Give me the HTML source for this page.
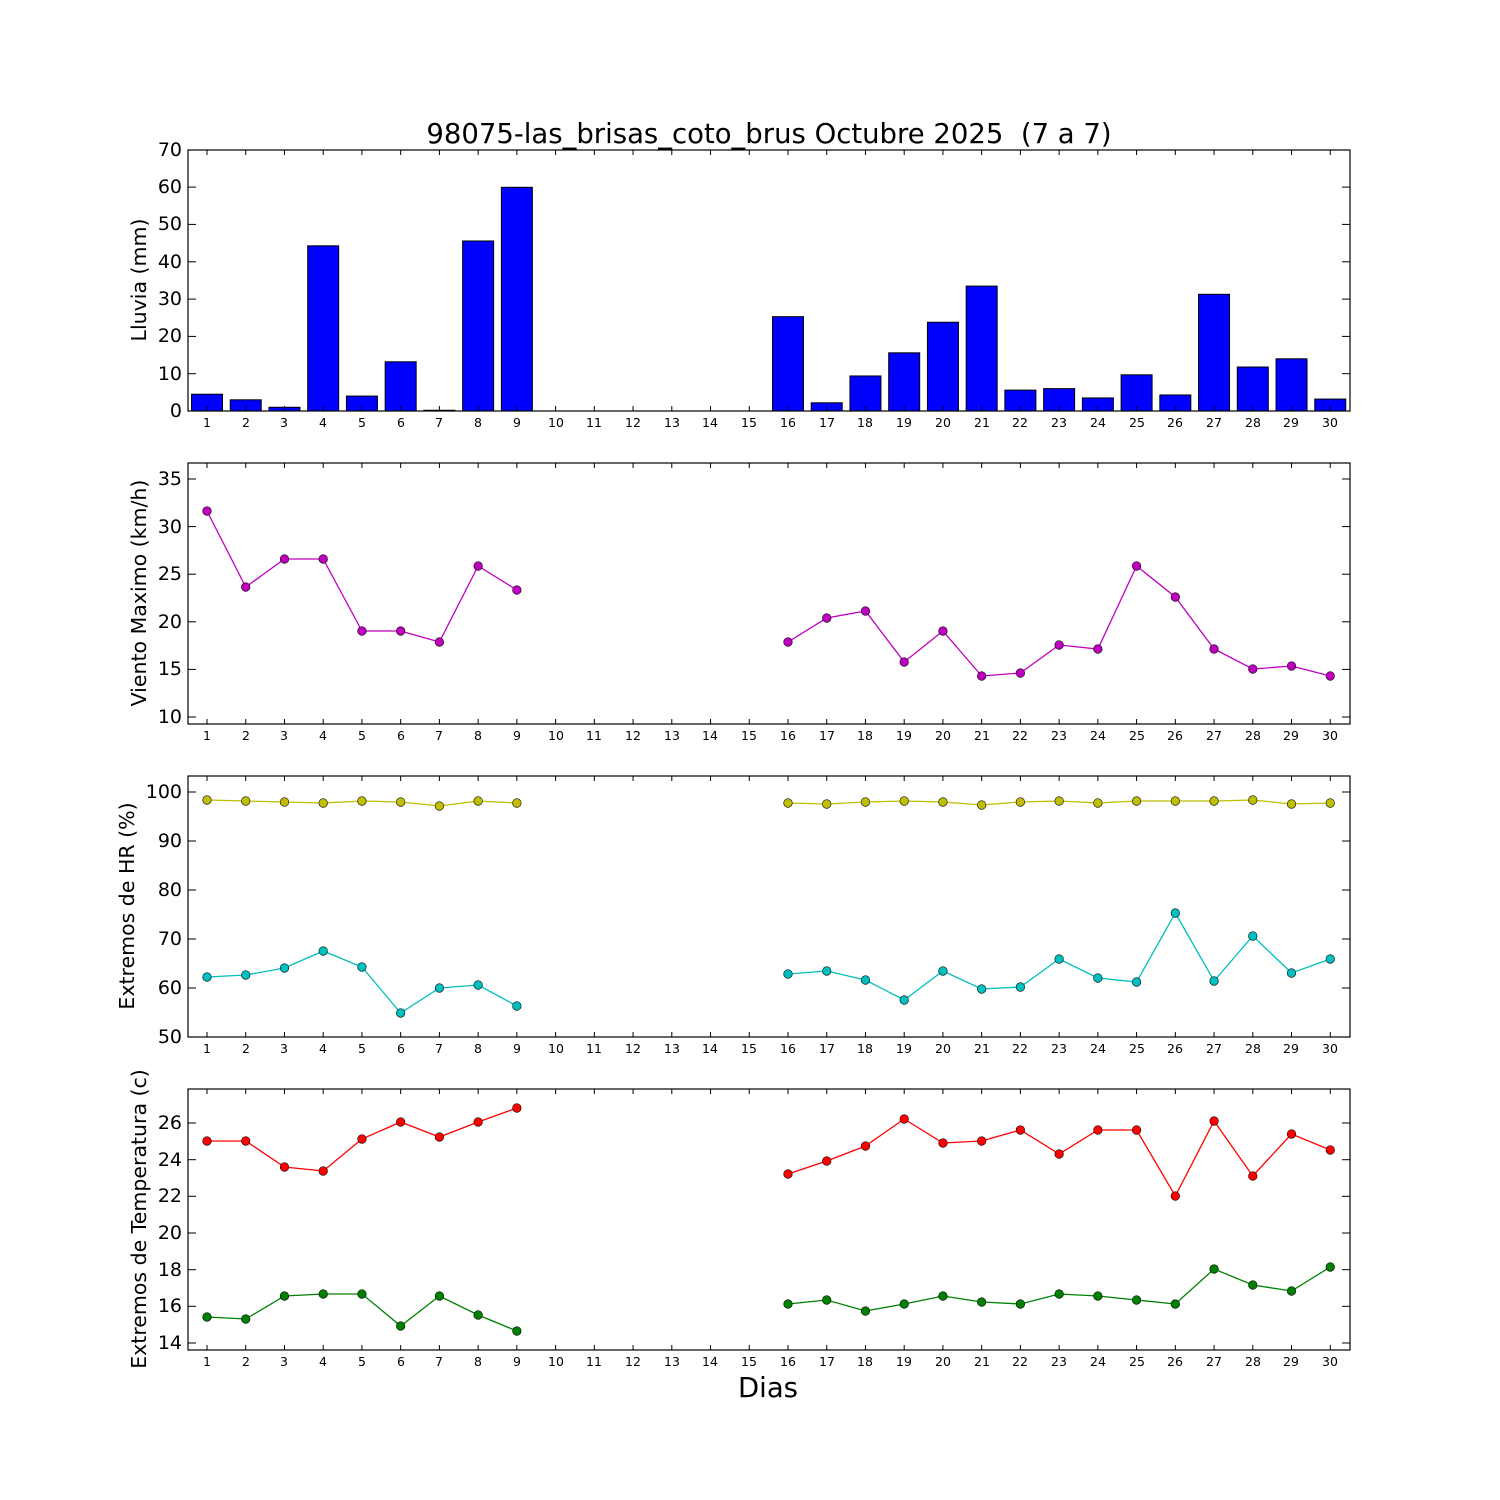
<!DOCTYPE html>
<html><head><meta charset="utf-8"><style>
html,body{margin:0;padding:0;background:#fff;}
svg{display:block;font-family:"DejaVu Sans","Liberation Sans",sans-serif;}
.xt{font-size:12.5px;text-anchor:middle;}
.yt{font-size:19px;text-anchor:end;}
.yl{font-size:20.5px;text-anchor:middle;}
</style></head><body>
<svg id="s" width="1500" height="1500" viewBox="0 0 1500 1500" xmlns="http://www.w3.org/2000/svg">
<rect width="1500" height="1500" fill="#fff"/>
<g id="shapes"></g>
<text x="769" y="143" font-size="27.5" text-anchor="middle" style="white-space:pre">98075-las_brisas_coto_brus Octubre 2025  (7 a 7)</text>
<text x="768" y="1397" font-size="27.5" text-anchor="middle">Dias</text>
<text class="yl" transform="translate(146,280) rotate(-90)">Lluvia (mm)</text>
<text class="yl" transform="translate(146,593) rotate(-90)">Viento Maximo (km/h)</text>
<text class="yl" transform="translate(134,906) rotate(-90)">Extremos de HR (%)</text>
<text class="yl" transform="translate(146,1219) rotate(-90)">Extremos de Temperatura (c)</text>
<g class="yt">
<text x="182" y="417">0</text><text x="182" y="380">10</text><text x="182" y="342">20</text><text x="182" y="305">30</text><text x="182" y="268">40</text><text x="182" y="230">50</text><text x="182" y="193">60</text><text x="182" y="156">70</text>
<text x="182" y="723">10</text><text x="182" y="675">15</text><text x="182" y="628">20</text><text x="182" y="580">25</text><text x="182" y="533">30</text><text x="182" y="485">35</text>
<text x="182" y="1043">50</text><text x="182" y="994">60</text><text x="182" y="945">70</text><text x="182" y="896">80</text><text x="182" y="847">90</text><text x="182" y="798">100</text>
<text x="182" y="1349">14</text><text x="182" y="1312">16</text><text x="182" y="1276">18</text><text x="182" y="1239">20</text><text x="182" y="1202">22</text><text x="182" y="1166">24</text><text x="182" y="1129">26</text>
</g>
<g class="xt" id="xl0">
<text x="207" y="427">1</text><text x="246" y="427">2</text><text x="284" y="427">3</text><text x="323" y="427">4</text><text x="362" y="427">5</text><text x="401" y="427">6</text><text x="439" y="427">7</text><text x="478" y="427">8</text><text x="517" y="427">9</text><text x="556" y="427">10</text><text x="594" y="427">11</text><text x="633" y="427">12</text><text x="672" y="427">13</text><text x="710" y="427">14</text><text x="749" y="427">15</text><text x="788" y="427">16</text><text x="827" y="427">17</text><text x="865" y="427">18</text><text x="904" y="427">19</text><text x="943" y="427">20</text><text x="982" y="427">21</text><text x="1020" y="427">22</text><text x="1059" y="427">23</text><text x="1098" y="427">24</text><text x="1137" y="427">25</text><text x="1175" y="427">26</text><text x="1214" y="427">27</text><text x="1253" y="427">28</text><text x="1291" y="427">29</text><text x="1330" y="427">30</text>
</g>
<g class="xt" transform="translate(0,313)">
<text x="207" y="427">1</text><text x="246" y="427">2</text><text x="284" y="427">3</text><text x="323" y="427">4</text><text x="362" y="427">5</text><text x="401" y="427">6</text><text x="439" y="427">7</text><text x="478" y="427">8</text><text x="517" y="427">9</text><text x="556" y="427">10</text><text x="594" y="427">11</text><text x="633" y="427">12</text><text x="672" y="427">13</text><text x="710" y="427">14</text><text x="749" y="427">15</text><text x="788" y="427">16</text><text x="827" y="427">17</text><text x="865" y="427">18</text><text x="904" y="427">19</text><text x="943" y="427">20</text><text x="982" y="427">21</text><text x="1020" y="427">22</text><text x="1059" y="427">23</text><text x="1098" y="427">24</text><text x="1137" y="427">25</text><text x="1175" y="427">26</text><text x="1214" y="427">27</text><text x="1253" y="427">28</text><text x="1291" y="427">29</text><text x="1330" y="427">30</text>
</g>
<g class="xt" transform="translate(0,626)">
<text x="207" y="427">1</text><text x="246" y="427">2</text><text x="284" y="427">3</text><text x="323" y="427">4</text><text x="362" y="427">5</text><text x="401" y="427">6</text><text x="439" y="427">7</text><text x="478" y="427">8</text><text x="517" y="427">9</text><text x="556" y="427">10</text><text x="594" y="427">11</text><text x="633" y="427">12</text><text x="672" y="427">13</text><text x="710" y="427">14</text><text x="749" y="427">15</text><text x="788" y="427">16</text><text x="827" y="427">17</text><text x="865" y="427">18</text><text x="904" y="427">19</text><text x="943" y="427">20</text><text x="982" y="427">21</text><text x="1020" y="427">22</text><text x="1059" y="427">23</text><text x="1098" y="427">24</text><text x="1137" y="427">25</text><text x="1175" y="427">26</text><text x="1214" y="427">27</text><text x="1253" y="427">28</text><text x="1291" y="427">29</text><text x="1330" y="427">30</text>
</g>
<g class="xt" transform="translate(0,939)">
<text x="207" y="427">1</text><text x="246" y="427">2</text><text x="284" y="427">3</text><text x="323" y="427">4</text><text x="362" y="427">5</text><text x="401" y="427">6</text><text x="439" y="427">7</text><text x="478" y="427">8</text><text x="517" y="427">9</text><text x="556" y="427">10</text><text x="594" y="427">11</text><text x="633" y="427">12</text><text x="672" y="427">13</text><text x="710" y="427">14</text><text x="749" y="427">15</text><text x="788" y="427">16</text><text x="827" y="427">17</text><text x="865" y="427">18</text><text x="904" y="427">19</text><text x="943" y="427">20</text><text x="982" y="427">21</text><text x="1020" y="427">22</text><text x="1059" y="427">23</text><text x="1098" y="427">24</text><text x="1137" y="427">25</text><text x="1175" y="427">26</text><text x="1214" y="427">27</text><text x="1253" y="427">28</text><text x="1291" y="427">29</text><text x="1330" y="427">30</text>
</g>
</svg>
<script>
(function(){
var g=document.getElementById("shapes"),h="";
function X(d){return 207+(d-1)*38.733;}
var rain={1:4.5,2:3,3:1,4:44.3,5:4,6:13.2,7:0.2,8:45.6,9:60,16:25.3,17:2.2,18:9.4,19:15.6,20:23.8,21:33.5,22:5.6,23:6,24:3.5,25:9.7,26:4.3,27:31.3,28:11.8,29:14,30:3.2};
for(var d in rain){var v=rain[d],hh=v*3.7286,x=X(+d)-15.5;h+='<rect x="'+x+'" y="'+(411-hh)+'" width="31" height="'+hh+'" fill="#0000ff" stroke="#000" stroke-width="1"/>';}
function series(ys,col){
 var segs=[[1,9],[16,30]];
 segs.forEach(function(s){var p=[];for(var d=s[0];d<=s[1];d++)p.push(X(d)+","+ys[d]);h+='<polyline points="'+p.join(" ")+'" fill="none" stroke="'+col+'" stroke-width="1.3"/>';});
 for(var d in ys)h+='<circle cx="'+X(+d)+'" cy="'+ys[d]+'" r="4.3" fill="'+col+'" stroke="#000" stroke-width="0.6"/>';
}
function mk(a){var o={},k=[1,2,3,4,5,6,7,8,9,16,17,18,19,20,21,22,23,24,25,26,27,28,29,30];k.forEach(function(d,i){o[d]=a[i];});return o;}
series(mk([511,587,559,559,631,631,642,566,590,642,618,611,662,631,676,673,645,649,566,597,649,669,666,676]),"#bf00bf");
series(mk([800,801,802,803,801,802,806,801,803,803,804,802,801,802,805,802,801,803,801,801,801,800,804,803]),"#bfbf00");
series(mk([977,975,968,951,967,1013,988,985,1006,974,971,980,1000,971,989,987,959,978,982,913,981,936,973,959]),"#00bfbf");
series(mk([1141,1141,1167,1171,1139,1122,1137,1122,1108,1174,1161,1146,1119,1143,1141,1130,1154,1130,1130,1196,1121,1176,1134,1150]),"#ff0000");
series(mk([1317,1319,1296,1294,1294,1326,1296,1315,1331,1304,1300,1311,1304,1296,1302,1304,1294,1296,1300,1304,1269,1285,1291,1267]),"#008000");
var panels=[[150,[411,373.7,336.4,299.1,261.8,224.4,187.1,150]],[463,[717,669.4,621.8,574.2,526.6,479]],[776,[1037,988,939,890,841,792]],[1089,[1343,1306.3,1269.7,1233,1196.3,1159.7,1123]]];
panels.forEach(function(p){var t=p[0],b=t+261;
 h+='<rect x="188" y="'+t+'" width="1162" height="261" fill="none" stroke="#000" stroke-width="1.2"/>';
 for(var d=1;d<=30;d++){var x=X(d);h+='<line x1="'+x+'" y1="'+b+'" x2="'+x+'" y2="'+(b-5)+'" stroke="#000"/><line x1="'+x+'" y1="'+t+'" x2="'+x+'" y2="'+(t+5)+'" stroke="#000"/>';}
 p[1].forEach(function(y){h+='<line x1="188" y1="'+y+'" x2="196" y2="'+y+'" stroke="#000"/><line x1="1342" y1="'+y+'" x2="1350" y2="'+y+'" stroke="#000"/>';});
});
g.innerHTML=h;
})();
</script>
</body></html>
